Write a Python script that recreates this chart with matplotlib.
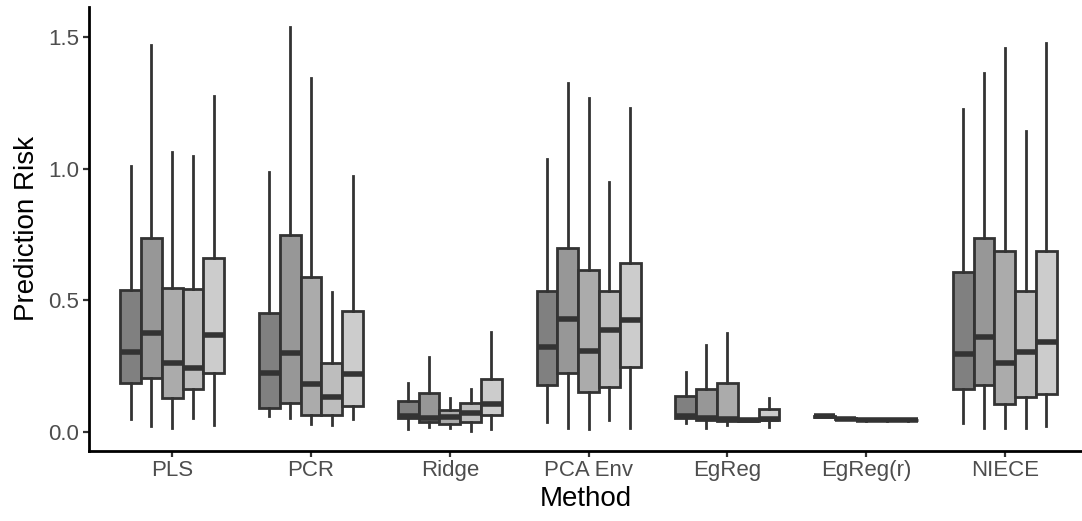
import numpy as np
import matplotlib
matplotlib.use("Agg")
import matplotlib.pyplot as plt

plt.rcParams['font.family'] = ['Liberation Sans', 'DejaVu Sans']

# === data ===
methods = ["PLS", "PCR", "Ridge", "PCA Env", "EgReg", "EgReg(r)", "NIECE"]
group_fills = ["#808080", "#979797", "#ababab", "#bdbdbd", "#cccccc"]

whisker_hi = [
    [1.011, 1.470, 1.062, 1.049, 1.277],
    [0.986, 1.537, 1.343, 0.533, 0.972],
    [0.185, 0.284, 0.128, 0.162, 0.379],
    [1.036, 1.327, 1.267, 0.951, 1.229],
    [0.229, 0.330, 0.375, 0.048, 0.128],
    [0.061, 0.053, 0.047, 0.047, 0.047],
    [1.227, 1.362, 1.460, 1.144, 1.476],
]
q3 = [
    [0.539, 0.736, 0.546, 0.542, 0.662],
    [0.453, 0.748, 0.588, 0.261, 0.460],
    [0.118, 0.147, 0.084, 0.109, 0.203],
    [0.536, 0.698, 0.615, 0.536, 0.643],
    [0.137, 0.163, 0.185, 0.047, 0.087],
    [0.060, 0.052, 0.046, 0.046, 0.046],
    [0.609, 0.736, 0.689, 0.537, 0.689],
]
medians = [
    [0.305, 0.377, 0.263, 0.244, 0.368],
    [0.223, 0.299, 0.181, 0.134, 0.220],
    [0.061, 0.052, 0.058, 0.073, 0.106],
    [0.322, 0.429, 0.308, 0.387, 0.425],
    [0.061, 0.054, 0.051, 0.045, 0.050],
    [0.059, 0.051, 0.045, 0.045, 0.045],
    [0.295, 0.360, 0.261, 0.305, 0.341],
]
q1 = [
    [0.185, 0.206, 0.128, 0.162, 0.223],
    [0.090, 0.109, 0.065, 0.065, 0.099],
    [0.052, 0.039, 0.030, 0.039, 0.063],
    [0.179, 0.225, 0.153, 0.170, 0.246],
    [0.052, 0.046, 0.043, 0.043, 0.045],
    [0.058, 0.050, 0.044, 0.044, 0.044],
    [0.162, 0.179, 0.105, 0.132, 0.143],
]
whisker_lo = [
    [0.048, 0.023, 0.014, 0.054, 0.027],
    [0.061, 0.052, 0.029, 0.027, 0.048],
    [0.010, 0.018, 0.014, 0.005, 0.010],
    [0.039, 0.014, 0.011, 0.046, 0.014],
    [0.035, 0.014, 0.027, 0.042, 0.020],
    [0.057, 0.049, 0.043, 0.043, 0.043],
    [0.033, 0.016, 0.016, 0.016, 0.024],
]

# === figure ===
W, H = 1082, 521
fig = plt.figure(figsize=(W / 100, H / 100), dpi=100)
ax = fig.add_axes([89 / W, 1 - 450.7 / H, 1 - 89 / W, (450.7 - 7) / H])

box_w = 0.15
offsets = (np.arange(5) - 2) * box_w
edge = "#333333"

for g in range(5):
    stats = []
    for m in range(len(methods)):
        stats.append(dict(whislo=whisker_lo[m][g], q1=q1[m][g], med=medians[m][g],
                          q3=q3[m][g], whishi=whisker_hi[m][g], fliers=[]))
    pos = np.arange(1, len(methods) + 1) + offsets[g]
    ax.bxp(stats, positions=pos, widths=box_w, patch_artist=True,
           showcaps=False, showfliers=False, manage_ticks=False,
           boxprops=dict(facecolor=group_fills[g], edgecolor=edge, linewidth=2.0),
           whiskerprops=dict(color=edge, linewidth=2.0),
           medianprops=dict(color=edge, linewidth=4.0, solid_capstyle='butt'))

ax.set_xlim(0.4, 1 + (W - 172) / 138.8)
ax.set_ylim(-0.071, 1.614)
ax.set_xticks(np.arange(1, len(methods) + 1))
ax.set_xticklabels(methods)
ax.set_yticks([0.0, 0.5, 1.0, 1.5])
ax.set_yticklabels(["0.0", "0.5", "1.0", "1.5"])

for s in ["top", "right"]:
    ax.spines[s].set_visible(False)
for s in ["left", "bottom"]:
    ax.spines[s].set_linewidth(2.0)
    ax.spines[s].set_color("black")

ax.tick_params(axis="both", colors="#333333", width=1.6, length=4, labelsize=16,
               labelcolor="#4d4d4d", pad=3)
ax.set_xlabel("Method", fontsize=20, color="black", labelpad=3)
ax.set_ylabel("Prediction Risk", fontsize=20, color="black", labelpad=6)

fig.savefig("out.png", dpi=100)
